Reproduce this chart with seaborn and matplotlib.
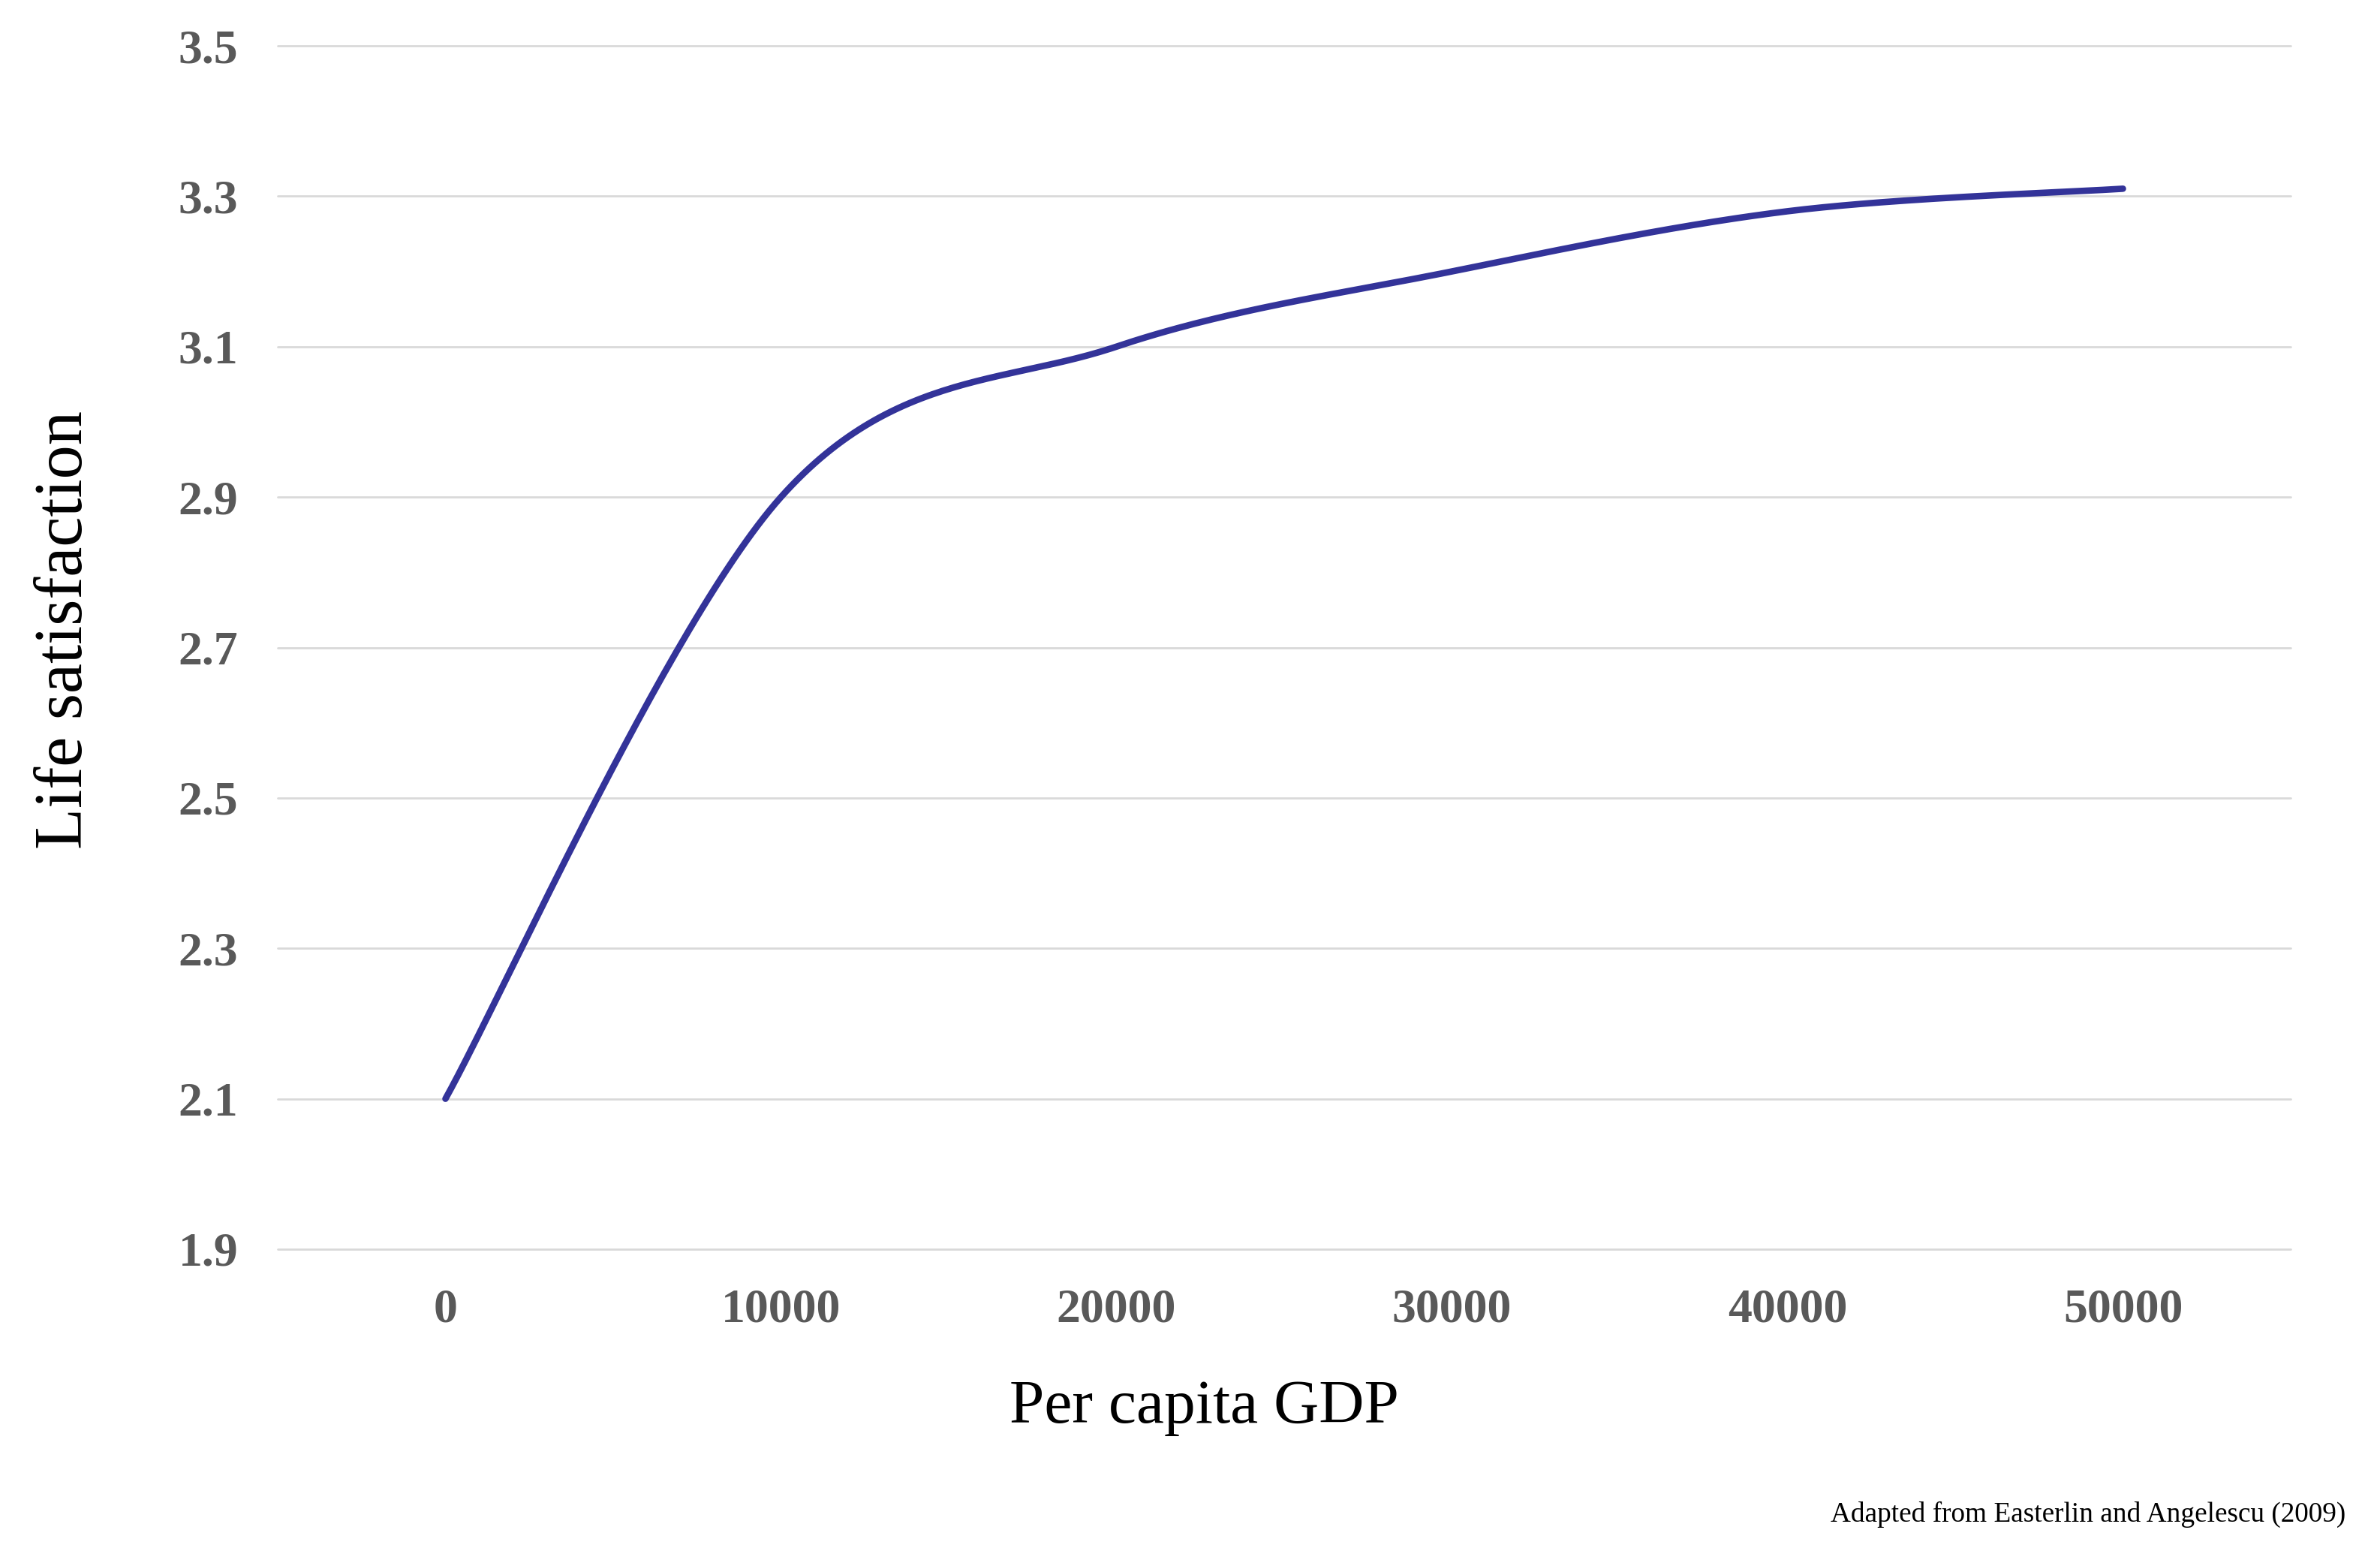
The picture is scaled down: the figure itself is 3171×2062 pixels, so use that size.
import numpy as np
import pandas as pd
import seaborn as sns
import matplotlib.pyplot as plt

# values
gdp = [0, 10000, 20000, 30000, 40000, 50000]
satisfaction = [2.10, 2.90, 3.10, 3.20, 3.28, 3.31]
x_ticks = [0, 10000, 20000, 30000, 40000, 50000]
y_ticks = [1.9, 2.1, 2.3, 2.5, 2.7, 2.9, 3.1, 3.3, 3.5]


def smooth_line(x, y, n=60):
    # Excel-style smoothed line: cubic Bezier segments with Catmull-Rom tangents
    x = np.asarray(x, float)
    y = np.asarray(y, float)
    px, py = [], []
    for i in range(len(x) - 1):
        i0 = max(i - 1, 0)
        i3 = min(i + 2, len(x) - 1)
        c1x = x[i] + (x[i + 1] - x[i0]) / 6
        c1y = y[i] + (y[i + 1] - y[i0]) / 6
        c2x = x[i + 1] - (x[i3] - x[i]) / 6
        c2y = y[i + 1] - (y[i3] - y[i]) / 6
        t = np.linspace(0, 1, n, endpoint=(i == len(x) - 2))
        a, b, c, d = (1 - t) ** 3, 3 * (1 - t) ** 2 * t, 3 * (1 - t) * t ** 2, t ** 3
        px.extend(a * x[i] + b * c1x + c * c2x + d * x[i + 1])
        py.extend(a * y[i] + b * c1y + c * c2y + d * y[i + 1])
    return pd.DataFrame({'gdp': px, 'sat': py})


sns.set_theme(style='white')
plt.rcParams['font.family'] = ['Liberation Serif', 'DejaVu Serif']

fig = plt.figure(figsize=(3171 / 200, 2062 / 200), dpi=200)
ax = fig.add_axes([370 / 3171, 1 - 1664 / 2062, (3052 - 370) / 3171, (1664 - 61) / 2062])

curve = smooth_line(gdp, satisfaction)
sns.lineplot(data=curve, x='gdp', y='sat', ax=ax, color='#333399', linewidth=3.1,
             sort=False, solid_capstyle='round')

ax.set_xlim(-5000, 55000)
ax.set_ylim(1.9, 3.5)
ax.set_xticks(x_ticks)
ax.set_yticks(y_ticks)
ax.set_yticklabels([f'{v:.1f}' for v in y_ticks])
ax.set_xticklabels([str(v) for v in x_ticks])
ax.grid(axis='y', color='#d9d9d9', linewidth=1.0)
for gl in ax.get_ygridlines():
    gl.set_clip_on(False)
ax.set_axisbelow(True)
for s in ax.spines.values():
    s.set_visible(False)
ax.tick_params(axis='both', length=0, labelsize=23, labelcolor='#595959')
ax.tick_params(axis='y', pad=19)
ax.tick_params(axis='x', pad=19)
for lab in ax.get_xticklabels() + ax.get_yticklabels():
    lab.set_fontweight('bold')

ax.set_xlabel('')
ax.set_ylabel('')
fig.text(1604 / 3171, 1 - 1875 / 2062, 'Per capita GDP', ha='center', va='center',
         fontsize=30, color='black')
fig.text(87 / 3171, 1 - 839 / 2062, 'Life satisfaction', ha='center', va='center',
         rotation=90, fontsize=32.5, color='black')
fig.text(3125 / 3171, 1 - 2017 / 2062, 'Adapted from Easterlin and Angelescu (2009)',
         ha='right', va='center', fontsize=13.4, color='black')

fig.savefig('out.png', dpi=200, facecolor='white')
